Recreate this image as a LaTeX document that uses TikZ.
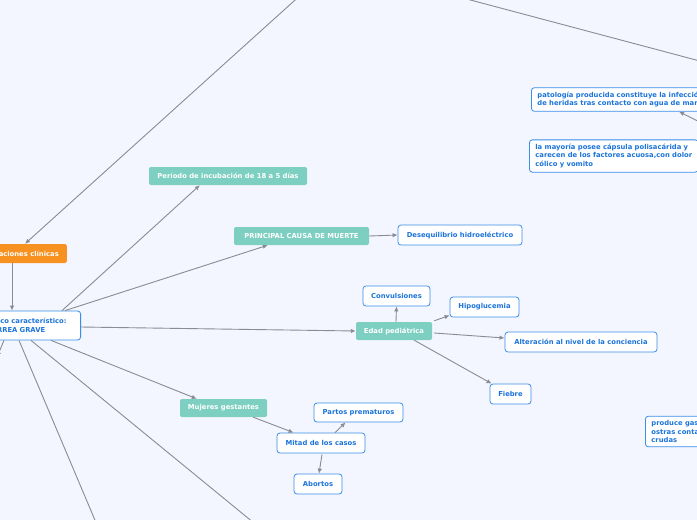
\documentclass[tikz,border=0pt]{standalone}
\usepackage{fontspec}
\setmainfont{DejaVu Sans}
\usetikzlibrary{calc, positioning}
\usetikzlibrary{arrows.meta}

\definecolor{fondo}{HTML}{F3F6FE}
\definecolor{linea}{HTML}{8A8B93}
\definecolor{verde}{HTML}{7DCFC1}
\definecolor{naranja}{HTML}{F7911F}
\definecolor{azul}{HTML}{3A8DEA}
\definecolor{azultxt}{HTML}{1C74DA}

\begin{document}
\begin{tikzpicture}[x=1pt, y=-1pt,
  font=\fontsize{6.8}{8.7}\selectfont\bfseries,
  caja/.style={draw=azul, line width=0.8pt, fill=white, text=azultxt, rounded corners=3pt,
    inner xsep=2pt, inner ysep=0pt, minimum height=20pt},
  tema/.style={fill=verde, text=white, rounded corners=2pt,
    inner xsep=2pt, inner ysep=0pt, minimum height=18pt},
  raizbox/.style={fill=naranja, text=white, rounded corners=2pt,
    inner xsep=8pt, inner ysep=0pt, minimum height=19pt},
  nota/.style={caja, align=left, inner xsep=6pt, inner ysep=4pt, anchor=west},
  flecha/.style={draw=linea, line width=0.9pt, -{Latex[length=5pt, width=4.5pt]}}]

\useasboundingbox (0,0) rectangle (697,520);
\fill[fondo] (0,0) rectangle (697,520);

% puntos fuera del cuadro
\coordinate (raiz) at (335,-36);
\coordinate (vib) at (760,77);
\coordinate (vul) at (730,137);
\coordinate (b1) at (100,532);
\coordinate (b2) at (265,532);
\coordinate (b3) at (-3,357);

\node[raizbox, anchor=east] (mani) at (67,253.5) {Manifestaciones clínicas};
\node[caja, align=left, anchor=east, minimum height=29pt, inner xsep=6pt, text width=91pt] (clin) at (81,325.5)
  {Clínico característico:\\DIARREA GRAVE};

\node[tema, minimum width=158pt] (periodo) at (228,176) {Período de incubación de 18 a 5 días};
\node[tema, minimum width=135pt] (causa) at (301.5,236) {PRINCIPAL CAUSA DE MUERTE};
\node[caja, minimum width=124pt] (deseq) at (460,235) {Desequilibrio hidroeléctrico};

\node[tema, minimum width=76pt] (edad) at (394,331) {Edad pediátrica};
\node[caja, minimum width=67pt] (conv) at (396.5,296) {Convulsiones};
\node[caja, minimum width=69pt] (hipo) at (484.5,307) {Hipoglucemia};
\node[caja, minimum width=152pt] (alter) at (581,342) {Alteración al nivel de la conciencia};
\node[caja, minimum width=41pt] (fiebre) at (510.5,394) {Fiebre};

\node[tema, minimum width=87pt] (mujeres) at (223.5,408) {Mujeres gestantes};
\node[caja, minimum width=88pt] (mitad) at (321,443) {Mitad de los casos};
\node[caja, minimum width=89pt, minimum height=19pt] (partos) at (358.5,412.5) {Partos prematuros};
\node[caja, minimum width=48pt] (abortos) at (318,484) {Abortos};

\node[nota] (pato) at (531,99.5)
  {patología producida constituye la infección\\de heridas tras contacto con agua de mar};
\node[nota] (mayoria) at (529,156)
  {la mayoría posee cápsula polisacárida y\\carecen de los factores acuosa,con dolor\\cólico y vomito};
\node[nota] (produce) at (645,431.5)
  {produce gastroenteritis tras\\ostras contaminadas\\crudas};

% conectores
\draw[flecha] (raiz) -- ($(mani.north east)+(-42,0)$);
\draw[flecha] (raiz) -- (vib);
\draw[flecha] (vul) -- ($(pato.south west)+(148,0)$);
\draw[flecha] ($(mani.south east)+(-55,0)$) -- ($(clin.north east)+(-69,0)$);

\draw[flecha] ($(clin.north east)+(-19,0)$) -- ($(periodo.south west)+(51,0)$);
\draw[flecha] ($(clin.north east)+(-16,0)$) -- ($(causa.south west)+(34,0)$);
\draw[flecha] (causa.east) -- (deseq.west);
\draw[flecha] ($(clin.east)+(0,1.5)$) -- (edad.west);
\draw[flecha] ($(clin.south east)+(-30,0)$) -- ($(mujeres.north west)+(17,0)$);
\draw[flecha] ($(clin.south east)+(-62,0)$) -- (b1);
\draw[flecha] ($(clin.south east)+(-50,0)$) -- (b2);
\draw[flecha] ($(clin.south east)+(-77,0)$) -- (b3);

\draw[flecha] ($(edad.north)+(2,0)$) -- (conv.south);
\draw[flecha] ($(edad.north east)+(2,-1)$) -- ($(hipo.south west)+(0,-2)$);
\draw[flecha] ($(edad.east)+(2,2)$) -- ($(alter.west)+(0,-4)$);
\draw[flecha] ($(edad.south east)+(-18,0)$) -- ($(fiebre.north west)+(2,0)$);

\draw[flecha] ($(mujeres.south east)+(-14,0)$) -- ($(mitad.north west)+(17,0)$);
\draw[flecha] ($(mitad.north)+(14,0)$) -- ($(partos.south west)+(32,0)$);
\draw[flecha] ($(mitad.south)+(1,1)$) -- ($(abortos.north)+(1,0)$);
\end{tikzpicture}
\end{document}
